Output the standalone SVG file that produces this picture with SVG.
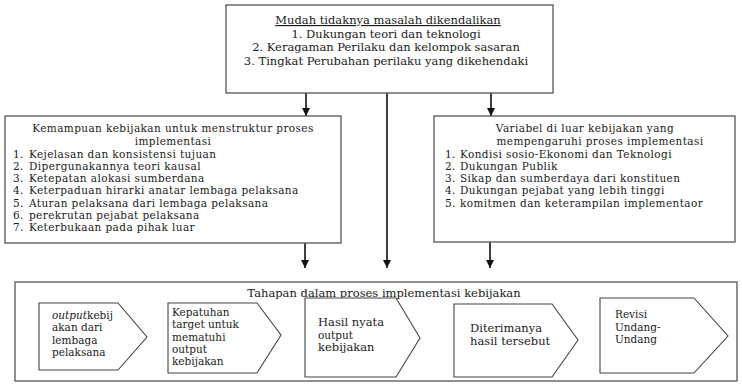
<svg xmlns="http://www.w3.org/2000/svg" width="742" height="387" viewBox="0 0 742 387">
<defs>
<marker id="ah" viewBox="0 0 10 10" refX="10" refY="5" markerWidth="8" markerHeight="8" markerUnits="userSpaceOnUse" orient="auto">
<path d="M0,0 L10,5 L0,10 z" fill="#111"/>
</marker>
<style>
text{font-family:"DejaVu Serif","Liberation Serif",serif;font-size:11.5px;fill:#1a1a1a}
.p{font-size:10.5px}
.l{font-size:10.5px;letter-spacing:0.4px}
.box{fill:#fff;stroke:#555;stroke-width:1.3}
.pent{fill:#fff;stroke:#444;stroke-width:1.1}
.conn{stroke:#111;stroke-width:1.6;fill:none}
.c{text-anchor:middle}
</style>
</defs>
<rect width="742" height="387" fill="#fff"/>
<g id="connectors">
<line class="conn" x1="306" y1="93" x2="306" y2="116" marker-end="url(#ah)"/>
<line class="conn" x1="491" y1="93" x2="491" y2="116" marker-end="url(#ah)"/>
<line class="conn" x1="387" y1="93" x2="387" y2="268" marker-end="url(#ah)"/>
<line class="conn" x1="305" y1="243" x2="305" y2="268" marker-end="url(#ah)"/>
<line class="conn" x1="490" y1="242" x2="490" y2="268" marker-end="url(#ah)"/>
</g>
<g id="top">
<rect class="box" x="226" y="5" width="327" height="88"/>
<text class="c" x="388" y="24" text-decoration="underline">Mudah tidaknya masalah dikendalikan</text>
<text class="c" x="386" y="37.5">1. Dukungan teori dan teknologi</text>
<text class="c" x="386" y="51">2. Keragaman Perilaku dan kelompok sasaran</text>
<text class="c" x="386" y="64.5">3. Tingkat Perubahan perilaku yang dikehendaki</text>
</g>
<g id="left">
<rect class="box" x="5" y="116" width="336" height="127"/>
<text class="l c" x="173" y="132">Kemampuan kebijakan untuk menstruktur proses</text>
<text class="l c" x="173" y="145">implementasi</text>
<text class="l" x="13" y="157.5">1.</text><text class="l" x="29" y="157.5">Kejelasan dan konsistensi tujuan</text>
<text class="l" x="13" y="169.8">2.</text><text class="l" x="29" y="169.8">Dipergunakannya teori kausal</text>
<text class="l" x="13" y="182.1">3.</text><text class="l" x="29" y="182.1">Ketepatan alokasi sumberdana</text>
<text class="l" x="13" y="194.4">4.</text><text class="l" x="29" y="194.4">Keterpaduan hirarki anatar lembaga pelaksana</text>
<text class="l" x="13" y="206.7">5.</text><text class="l" x="29" y="206.7">Aturan pelaksana dari lembaga pelaksana</text>
<text class="l" x="13" y="219">6.</text><text class="l" x="29" y="219">perekrutan pejabat pelaksana</text>
<text class="l" x="13" y="231.3">7.</text><text class="l" x="29" y="231.3">Keterbukaan pada pihak luar</text>
</g>
<g id="right">
<rect class="box" x="434" y="116" width="301" height="126"/>
<text class="l c" x="585" y="132">Variabel di luar kebijakan yang</text>
<text class="l c" x="600" y="145">mempengaruhi proses implementasi</text>
<text class="l" x="445" y="157.5">1.</text><text class="l" x="460" y="157.5">Kondisi sosio-Ekonomi dan Teknologi</text>
<text class="l" x="445" y="169.8">2.</text><text class="l" x="460" y="169.8">Dukungan Publik</text>
<text class="l" x="445" y="182.1">3.</text><text class="l" x="460" y="182.1">Sikap dan sumberdaya dari konstituen</text>
<text class="l" x="445" y="194.4">4.</text><text class="l" x="460" y="194.4">Dukungan pejabat yang lebih tinggi</text>
<text class="l" x="445" y="206.7">5.</text><text class="l" x="460" y="206.7">komitmen dan keterampilan implementaor</text>
</g>
<g id="bottom">
<rect class="box" x="15" y="282" width="722" height="99"/>
<text class="c" x="384" y="297">Tahapan dalam proses implementasi kebijakan</text>
</g>
<g id="step1">
<path class="pent" d="M39,303 H118 L147,337 L118,370 H39 Z"/>
<text class="p" x="52" y="319"><tspan font-style="italic">output</tspan>kebij</text>
<text class="p" x="52" y="331.3">akan dari</text>
<text class="p" x="52" y="343.6">lembaga</text>
<text class="p" x="52" y="355.9">pelaksana</text>
</g>
<g id="step2">
<path class="pent" d="M168,303 H257 L281,335 L257,373 H168 Z"/>
<text class="p" x="172" y="316">Kepatuhan</text>
<text class="p" x="172" y="328.3">target untuk</text>
<text class="p" x="172" y="340.6">mematuhi</text>
<text class="p" x="172" y="352.9">output</text>
<text class="p" x="172" y="365.2">kebijakan</text>
</g>
<g id="step3">
<path class="pent" d="M305,298 H396 L420,338 L396,377 H305 Z"/>
<text x="318" y="326">Hasil nyata</text>
<text class="p" x="318" y="338.5">output</text>
<text x="318" y="351">kebijakan</text>
</g>
<g id="step4">
<path class="pent" d="M454,304 H552 L578,340 L552,377 H454 Z"/>
<text x="470" y="332">Diterimanya</text>
<text x="470" y="345">hasil tersebut</text>
</g>
<g id="step5">
<path class="pent" d="M600,298 H694 L728,336 L694,373 H600 Z"/>
<text class="p" x="615" y="318">Revisi</text>
<text class="p" x="615" y="330.5">Undang-</text>
<text class="p" x="615" y="343">Undang</text>
</g>
</svg>
